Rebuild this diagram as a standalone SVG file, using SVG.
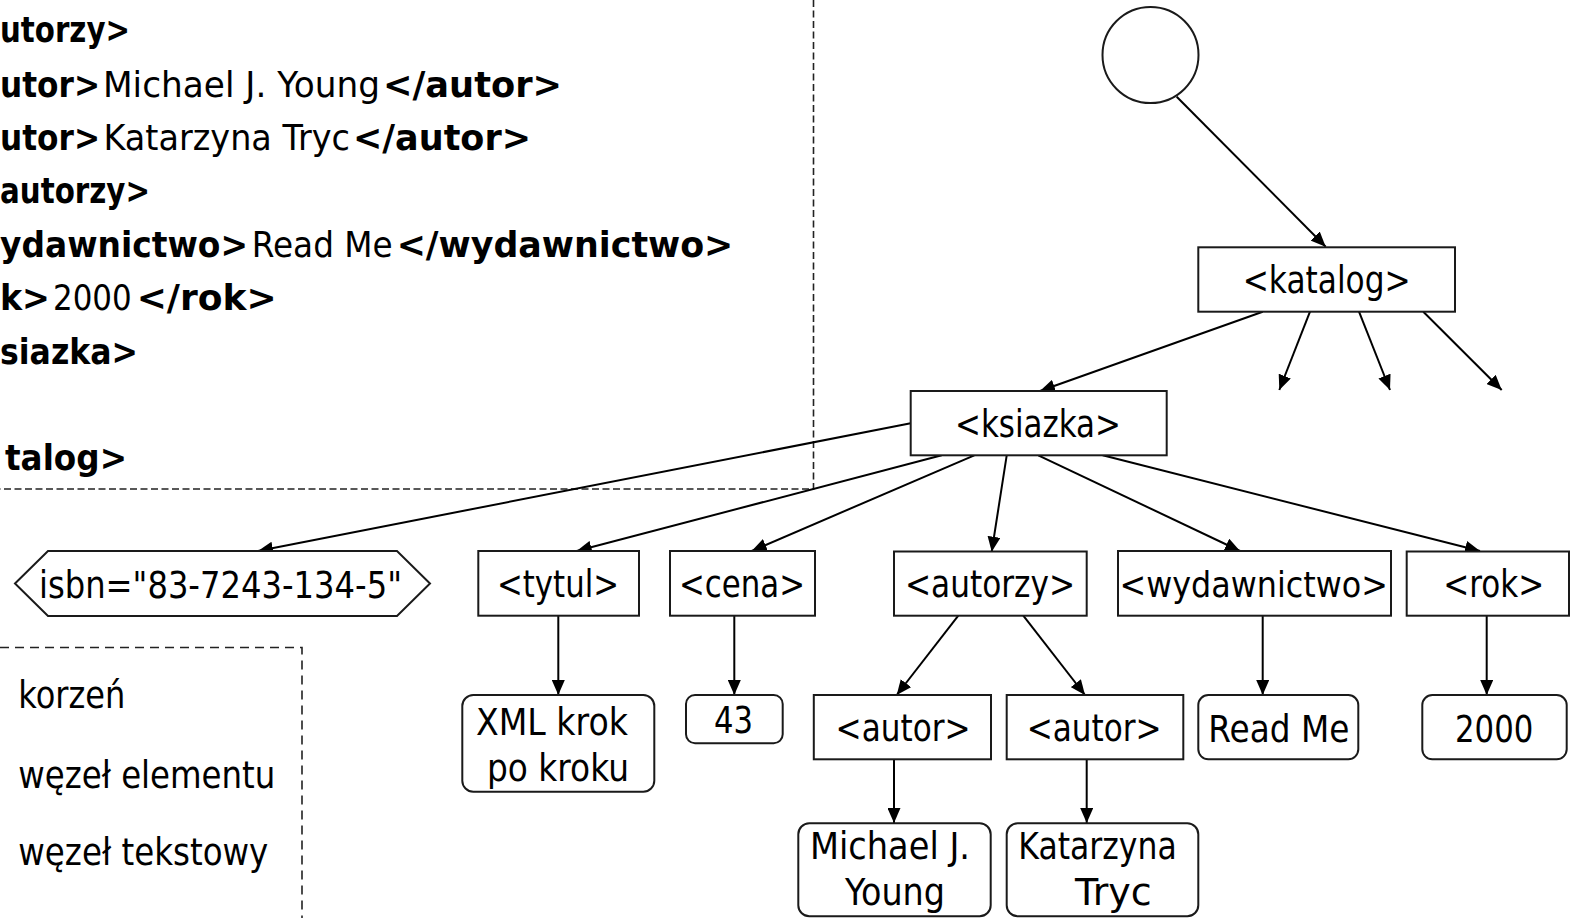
<svg xmlns="http://www.w3.org/2000/svg" width="1572" height="918" viewBox="0 0 1572 918">
  <style>
    .code { font-family: "DejaVu Sans", Verdana, sans-serif; font-size: 35px; fill: #000; }
    .b { font-weight: bold; }
    .lbl { font-family: "DejaVu Sans", Verdana, sans-serif; font-size: 37px; fill: #000; }
    .leg { font-family: "DejaVu Sans", Verdana, sans-serif; font-size: 37px; fill: #000; }
    .box { fill: #fff; stroke: #1a1a1a; stroke-width: 2; }
    .edge { stroke: #000; stroke-width: 2; fill: none; marker-end: url(#arr); }
    .dash1 { stroke: #222; stroke-width: 1.6; fill: none; stroke-dasharray: 7 3.5; }
    .dash2 { stroke: #222; stroke-width: 1.6; fill: none; stroke-dasharray: 9 6; }
  </style>
  <defs>
    <marker id="arr" viewBox="0 0 15 13" refX="15" refY="6.5" markerWidth="15" markerHeight="13" orient="auto" markerUnits="userSpaceOnUse">
      <path d="M0,0 L15,6.5 L0,13 z" fill="#000"/>
    </marker>
  </defs>
  <rect width="1572" height="918" fill="#fff"/>

  <!-- XML source listing: tags bold, content regular -->
  <g id="listing">
    <text class="code" y="42"><tspan class="b" x="0" textLength="130" lengthAdjust="spacingAndGlyphs">utorzy&gt;</tspan></text>

    <text class="code" y="96.5"><tspan class="b" x="0" textLength="100" lengthAdjust="spacingAndGlyphs">utor&gt;</tspan><tspan x="103" textLength="277" lengthAdjust="spacingAndGlyphs">Michael J. Young</tspan><tspan class="b" x="383" textLength="179" lengthAdjust="spacingAndGlyphs">&lt;/autor&gt;</tspan></text>

    <text class="code" y="150"><tspan class="b" x="0" textLength="100" lengthAdjust="spacingAndGlyphs">utor&gt;</tspan><tspan x="103.5" textLength="246.5" lengthAdjust="spacingAndGlyphs">Katarzyna Tryc</tspan><tspan class="b" x="353" textLength="178" lengthAdjust="spacingAndGlyphs">&lt;/autor&gt;</tspan></text>

    <text class="code" y="203"><tspan class="b" x="0" textLength="150" lengthAdjust="spacingAndGlyphs">autorzy&gt;</tspan></text>

    <text class="code" y="256.5"><tspan class="b" x="0" textLength="248" lengthAdjust="spacingAndGlyphs">ydawnictwo&gt;</tspan><tspan x="251.7" textLength="141" lengthAdjust="spacingAndGlyphs">Read Me</tspan><tspan class="b" x="396.7" textLength="336.6" lengthAdjust="spacingAndGlyphs">&lt;/wydawnictwo&gt;</tspan></text>

    <text class="code" y="310"><tspan class="b" x="0" textLength="50" lengthAdjust="spacingAndGlyphs">k&gt;</tspan><tspan x="53" textLength="78.7" lengthAdjust="spacingAndGlyphs">2000</tspan><tspan class="b" x="136.7" textLength="140" lengthAdjust="spacingAndGlyphs">&lt;/rok&gt;</tspan></text>

    <text class="code" y="363.5"><tspan class="b" x="0" textLength="138" lengthAdjust="spacingAndGlyphs">siazka&gt;</tspan></text>

    <text class="code" y="470"><tspan class="b" x="5" textLength="122" lengthAdjust="spacingAndGlyphs">talog&gt;</tspan></text>
  </g>

  <!-- frames -->
  <g id="frames">
    <polyline class="dash1" points="813.5,0 813.5,489 0,489"/>
    <polyline class="dash2" points="0,647.5 302,647.5 302,918"/>
  </g>

  <!-- legend -->
  <g id="legend">
    <text class="leg" x="18.3" y="708" textLength="107" lengthAdjust="spacingAndGlyphs">korzeń</text>
    <text class="leg" x="18.3" y="788" textLength="257" lengthAdjust="spacingAndGlyphs">węzeł elementu</text>
    <text class="leg" x="18.3" y="865" textLength="250" lengthAdjust="spacingAndGlyphs">węzeł tekstowy</text>
  </g>

  <!-- connectors -->
  <g id="connectors">
    <line class="edge" x1="1176.7" y1="96.7" x2="1325.7" y2="246.7"/>
    <line class="edge" x1="1262.7" y1="311.7" x2="1040" y2="391"/>
    <line class="edge" x1="1310" y1="311.7" x2="1279.3" y2="390"/>
    <line class="edge" x1="1359" y1="311.7" x2="1390" y2="390"/>
    <line class="edge" x1="1423.3" y1="311.7" x2="1501.7" y2="390"/>

    <line class="edge" x1="910.7" y1="423.3" x2="258" y2="551"/>
    <line class="edge" x1="941.7" y1="455.3" x2="576.7" y2="551"/>
    <line class="edge" x1="974.3" y1="455.3" x2="751.7" y2="551"/>
    <line class="edge" x1="1006.7" y1="455.3" x2="991.7" y2="551.7"/>
    <line class="edge" x1="1038.3" y1="455.3" x2="1240" y2="551"/>
    <line class="edge" x1="1102.7" y1="455.3" x2="1480" y2="551"/>

    <line class="edge" x1="558.3" y1="615.7" x2="558.3" y2="695"/>
    <line class="edge" x1="734.3" y1="615.7" x2="734.3" y2="695"/>
    <line class="edge" x1="958.3" y1="615.7" x2="896.7" y2="695"/>
    <line class="edge" x1="1023.3" y1="615.7" x2="1085" y2="695"/>
    <line class="edge" x1="1262.7" y1="615.7" x2="1262.7" y2="695"/>
    <line class="edge" x1="1486.7" y1="615.7" x2="1486.7" y2="695"/>

    <line class="edge" x1="894" y1="759.3" x2="894" y2="823"/>
    <line class="edge" x1="1086.7" y1="759.3" x2="1086.7" y2="823"/>
  </g>

  <!-- root -->
  <g id="root">
    <circle class="box" cx="1150.5" cy="55" r="48"/>
  </g>

  <g id="katalog">
    <rect class="box" x="1198.3" y="247.3" width="256.7" height="64.4"/>
    <text class="lbl" x="1242.7" y="293" textLength="168" lengthAdjust="spacingAndGlyphs">&lt;katalog&gt;</text>
  </g>

  <g id="ksiazka">
    <rect class="box" x="910.7" y="391" width="256" height="64.3"/>
    <text class="lbl" x="955" y="437" textLength="166" lengthAdjust="spacingAndGlyphs">&lt;ksiazka&gt;</text>
  </g>

  <g id="isbn">
    <polygon class="box" points="15,583.5 48,551 397,551 430,583.5 397,616 48,616"/>
    <text class="lbl" x="39" y="598" textLength="363" lengthAdjust="spacingAndGlyphs">isbn="83-7243-134-5"</text>
  </g>

  <g id="tytul">
    <rect class="box" x="478.3" y="551" width="160.7" height="64.7"/>
    <text class="lbl" x="497" y="597" textLength="122" lengthAdjust="spacingAndGlyphs">&lt;tytul&gt;</text>
  </g>

  <g id="cena">
    <rect class="box" x="670" y="551" width="145" height="64.7"/>
    <text class="lbl" x="679" y="597" textLength="126" lengthAdjust="spacingAndGlyphs">&lt;cena&gt;</text>
  </g>

  <g id="autorzy">
    <rect class="box" x="894" y="551.5" width="192.7" height="64.2"/>
    <text class="lbl" x="905" y="597" textLength="170" lengthAdjust="spacingAndGlyphs">&lt;autorzy&gt;</text>
  </g>

  <g id="wydawnictwo">
    <rect class="box" x="1118" y="551" width="273" height="64.7"/>
    <text class="lbl" x="1119.5" y="597" textLength="268.5" lengthAdjust="spacingAndGlyphs" style="font-size:35px">&lt;wydawnictwo&gt;</text>
  </g>

  <g id="rok">
    <rect class="box" x="1406.7" y="551.5" width="162.3" height="64.2"/>
    <text class="lbl" x="1443.3" y="597" textLength="101" lengthAdjust="spacingAndGlyphs">&lt;rok&gt;</text>
  </g>

  <g id="tytul-text">
    <rect class="box" x="462.3" y="695" width="192" height="96.7" rx="11"/>
    <text class="lbl" x="476" y="735" textLength="152" lengthAdjust="spacingAndGlyphs">XML krok</text>
    <text class="lbl" x="487" y="780.7" textLength="142" lengthAdjust="spacingAndGlyphs">po kroku</text>
  </g>

  <g id="cena-text">
    <rect class="box" x="686" y="695" width="96.7" height="48.3" rx="9"/>
    <text class="lbl" x="714" y="733" textLength="39" lengthAdjust="spacingAndGlyphs">43</text>
  </g>

  <g id="autor-1">
    <rect class="box" x="813.8" y="695" width="177.2" height="64.3"/>
    <text class="lbl" x="835.6" y="741" textLength="135" lengthAdjust="spacingAndGlyphs">&lt;autor&gt;</text>
  </g>

  <g id="autor-2">
    <rect class="box" x="1006.7" y="695" width="176.6" height="64.3"/>
    <text class="lbl" x="1026.7" y="741" textLength="135" lengthAdjust="spacingAndGlyphs">&lt;autor&gt;</text>
  </g>

  <g id="wydawnictwo-text">
    <rect class="box" x="1198.3" y="695" width="160" height="64.3" rx="10"/>
    <text class="lbl" x="1208.3" y="741.7" textLength="141" lengthAdjust="spacingAndGlyphs">Read Me</text>
  </g>

  <g id="rok-text">
    <rect class="box" x="1422.3" y="695" width="144.4" height="64.3" rx="10"/>
    <text class="lbl" x="1455" y="741.7" textLength="78.3" lengthAdjust="spacingAndGlyphs">2000</text>
  </g>

  <g id="autor-1-text">
    <rect class="box" x="798.3" y="823.3" width="192.4" height="93" rx="11"/>
    <text class="lbl" x="810" y="859" textLength="160" lengthAdjust="spacingAndGlyphs">Michael J.</text>
    <text class="lbl" x="845" y="905" textLength="100" lengthAdjust="spacingAndGlyphs">Young</text>
  </g>

  <g id="autor-2-text">
    <rect class="box" x="1006.7" y="823.3" width="191.6" height="93" rx="11"/>
    <text class="lbl" x="1018.3" y="859" textLength="158.4" lengthAdjust="spacingAndGlyphs">Katarzyna</text>
    <text class="lbl" x="1075" y="905" textLength="76.7" lengthAdjust="spacingAndGlyphs">Tryc</text>
  </g>
</svg>
